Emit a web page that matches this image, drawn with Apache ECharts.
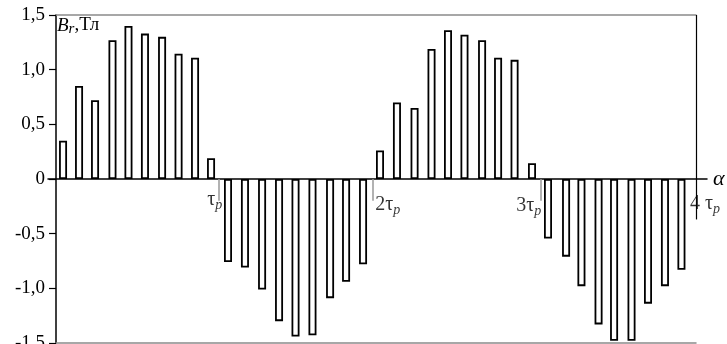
<!DOCTYPE html>
<html>
<head>
<meta charset="utf-8">
<script src="https://cdn.jsdelivr.net/npm/echarts@6/dist/echarts.min.js"></script>
<style>html,body{margin:0;padding:0;background:#fff;}#c{width:727px;height:344px;}</style>
</head>
<body>
<div id="c"></div>
<script>
// Positions of the bars along alpha (in units of tau_p) and their induction values, Br (T)
const alpha1 = [0.044, 0.144, 0.244, 0.353, 0.453, 0.556, 0.663, 0.766, 0.869, 0.969];
const br1    = [0.35, 0.85, 0.72, 1.27, 1.40, 1.33, 1.30, 1.145, 1.11, 0.19];
const alpha2 = [1.075, 1.181, 1.288, 1.394, 1.497, 1.603, 1.713, 1.813, 1.919];
const br2    = [-0.76, -0.81, -1.01, -1.30, -1.44, -1.43, -1.09, -0.94, -0.78];
const alpha3 = [2.025, 2.131, 2.241, 2.347, 2.450, 2.553, 2.663, 2.763, 2.866, 2.975];
const br3    = [0.26, 0.70, 0.65, 1.19, 1.36, 1.32, 1.27, 1.11, 1.09, 0.145];
const alpha4 = [3.075, 3.188, 3.284, 3.391, 3.488, 3.597, 3.700, 3.806, 3.909];
const br4    = [-0.545, -0.71, -0.98, -1.33, -1.48, -1.48, -1.14, -0.98, -0.83];

// tau_p marks on the alpha axis
const tauTicks = [1.017, 1.98, 3.03, 4.0];
const tauText  = ['τ', '2τ', '3τ', '4 τ'];

// y-axis
const yMin = -1.5, yMax = 1.5, yStep = 0.5;

// layout (styling only)
const tauLabelOffsets = [[-4, 21], [15, 26], [-12, 27], [9, 25]];
const FONT = 'Liberation Serif';

const alphaAll = alpha1.concat(alpha2, alpha3, alpha4);
const brAll = br1.concat(br2, br3, br4);
const barData = alphaAll.map((a, i) => [a, brAll[i]]);

const chart = echarts.init(document.getElementById('c'), null, {renderer: 'canvas'});
const option = {
  animation: false,
  backgroundColor: '#fff',
  title: {
    text: '{i|B}{s|r}{n|,Тл}',
    left: 57, top: 14, padding: 0,
    textStyle: {
      fontWeight: 'normal',
      rich: {
        i: {fontFamily: FONT, fontStyle: 'italic', fontWeight: 'normal', fontSize: 19, color: '#000'},
        s: {fontFamily: FONT, fontStyle: 'italic', fontWeight: 'normal', fontSize: 15, color: '#000', verticalAlign: 'bottom', padding: [8, 0, 0, 0]},
        n: {fontFamily: FONT, fontStyle: 'normal', fontWeight: 'normal', fontSize: 19, color: '#000'}
      }
    }
  },
  grid: [
    {left: 56, right: 31, top: 15, bottom: 1, outerBoundsMode: 'none', containLabel: false},
    {left: 48, right: 20, top: 15, bottom: 1, outerBoundsMode: 'none', containLabel: false}
  ],
  xAxis: [
    {gridIndex: 0, type: 'value', min: 0, max: 4, position: 'bottom',
     axisLine: {show: true, onZero: false, lineStyle: {color: '#8a8a8a', width: 1.5}},
     axisTick: {show: false}, axisLabel: {show: false}, splitLine: {show: false}},
    {gridIndex: 0, type: 'value', min: 0, max: 4, position: 'top',
     axisLine: {show: true, onZero: false, lineStyle: {color: '#8a8a8a', width: 1.5}},
     axisTick: {show: false}, axisLabel: {show: false}, splitLine: {show: false}},
    {gridIndex: 1, type: 'value', min: 0, max: 1, position: 'bottom',
     axisLine: {show: true, onZero: true, lineStyle: {color: '#000', width: 1.5}},
     axisTick: {show: false}, axisLabel: {show: false}, splitLine: {show: false},
     name: 'α', nameLocation: 'end', nameGap: 6,
     nameTextStyle: {fontFamily: FONT, fontStyle: 'italic', fontSize: 22, color: '#000', verticalAlign: 'middle', padding: [0, 0, 3, 0]}}
  ],
  yAxis: [
    {gridIndex: 0, type: 'value', min: yMin, max: yMax, interval: yStep,
     axisLine: {show: true, lineStyle: {color: '#000', width: 1.5}},
     axisTick: {show: true, length: 7, lineStyle: {color: '#000', width: 1.2}},
     axisLabel: {margin: 11, fontFamily: FONT, fontSize: 19, color: '#000',
       formatter: v => (Math.abs(v) < 1e-9 ? '0' : v.toFixed(1).replace('.', ','))},
     splitLine: {show: false}},
    {gridIndex: 1, type: 'value', min: yMin, max: yMax, show: false}
  ],
  series: [
    {
      type: 'bar', xAxisIndex: 0, yAxisIndex: 0,
      data: barData, barWidth: 8,
      itemStyle: {color: '#fff', borderColor: '#000', borderWidth: 1.8},
      z: 3,
      markLine: {
        silent: true, symbol: ['none', 'none'], animation: false,
        label: {show: false},
        data: [
          [{coord: [tauTicks[3], yMax], lineStyle: {color: '#000', width: 1.2, type: 'solid'}},
           {coord: [tauTicks[3], -0.37]}]
        ].concat(tauTicks.slice(0, 3).map(t => [
          {coord: [t, 0], lineStyle: {color: '#999', width: 1.5, type: 'solid'}},
          {coord: [t, -0.2]}
        ]))
      }
    },
    {
      type: 'scatter', xAxisIndex: 0, yAxisIndex: 0, symbolSize: 0, silent: true, z: 4,
      data: tauTicks.map((t, i) => ({
        value: [t, 0],
        label: {
          show: true, position: 'inside', offset: tauLabelOffsets[i],
          color: '#000', textBorderWidth: 0,
          formatter: '{t|' + tauText[i] + '}{p|p}',
          rich: {
            t: {fontFamily: FONT, fontSize: 20, color: '#000', textBorderWidth: 0},
            p: {fontFamily: FONT, fontStyle: 'italic', fontSize: 14, color: '#000', textBorderWidth: 0, verticalAlign: 'bottom', padding: [10, 0, 0, 0]}
          }
        }
      }))
    }
  ]
};
chart.setOption(option);
</script>
</body>
</html>
